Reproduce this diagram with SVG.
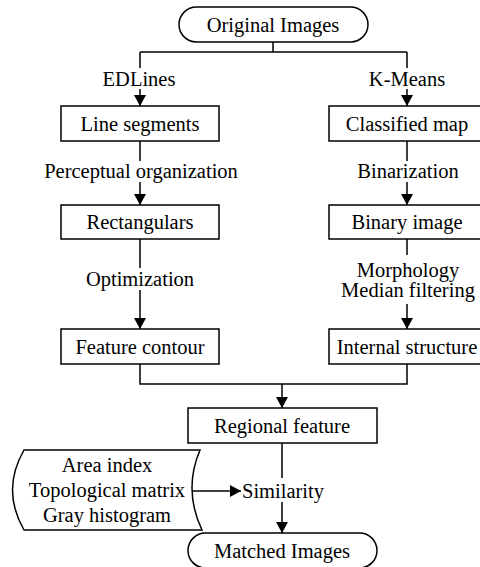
<svg xmlns="http://www.w3.org/2000/svg" width="480" height="567" viewBox="0 0 480 567">
<style>
.b{fill:#fff;stroke:#000;stroke-width:1.5}
.c{fill:none;stroke:#000;stroke-width:1.5}
.t{font-size:20.5px;fill:#000;text-anchor:middle}
</style>
<defs>
<marker id="ah" markerWidth="12" markerHeight="12" viewBox="0 0 12 12" refX="11" refY="6" orient="auto" markerUnits="userSpaceOnUse">
<path d="M0,0 L11,6 L0,12 Z" fill="#000"/>
</marker>
</defs>
<g font-family="Liberation Serif, Tinos, Times New Roman, DejaVu Serif, serif">
<g id="connectors">
<path class="c" d="M273,42 V52 M140,52 H407 M140,52 V68 M407,52 V68"/>
<path class="c" d="M140,89 V106" marker-end="url(#ah)"/>
<path class="c" d="M407,89 V106" marker-end="url(#ah)"/>
<path class="c" d="M140,141 V161"/>
<path class="c" d="M140,182 V205" marker-end="url(#ah)"/>
<path class="c" d="M407,141 V161"/>
<path class="c" d="M407,182 V205" marker-end="url(#ah)"/>
<path class="c" d="M140,239 V268"/>
<path class="c" d="M140,290 V329" marker-end="url(#ah)"/>
<path class="c" d="M407,239 V255"/>
<path class="c" d="M407,304 V329" marker-end="url(#ah)"/>
<path class="c" d="M140,364 V384 H407 V364"/>
<path class="c" d="M282,384 V408" marker-end="url(#ah)"/>
<path class="c" d="M282,443 V478"/>
<path class="c" d="M282,502 V533" marker-end="url(#ah)"/>
<path class="c" d="M192,491 H241" marker-end="url(#ah)"/>
<text class="t" x="139" y="86">EDLines</text>
<text class="t" x="407" y="86">K-Means</text>
<text class="t" x="141" y="178">Perceptual organization</text>
<text class="t" x="408" y="178">Binarization</text>
<text class="t" x="140" y="286">Optimization</text>
<text class="t" x="408" y="277">Morphology</text>
<text class="t" x="408" y="297">Median filtering</text>
<text class="t" x="283" y="498">Similarity</text>
</g>
<g id="original"><rect class="b" x="179" y="7" width="189" height="35" rx="17.5"/><text class="t" x="273" y="31.5">Original Images</text></g>
<g id="lineseg"><rect class="b" x="61" y="106" width="158" height="35"/><text class="t" x="140" y="130.5">Line segments</text></g>
<g id="classified"><rect class="b" x="329" y="106" width="158" height="35"/><text class="t" x="407" y="130.5">Classified map</text></g>
<g id="rect"><rect class="b" x="61" y="205" width="158" height="34"/><text class="t" x="140" y="229">Rectangulars</text></g>
<g id="binary"><rect class="b" x="329" y="205" width="158" height="34"/><text class="t" x="407" y="229">Binary image</text></g>
<g id="contour"><rect class="b" x="61" y="329" width="158" height="35"/><text class="t" x="140" y="353.5">Feature contour</text></g>
<g id="internal"><rect class="b" x="329" y="329" width="158" height="35"/><text class="t" x="407" y="353.5">Internal structure</text></g>
<g id="regional"><rect class="b" x="188" y="408" width="189" height="35"/><text class="t" x="282" y="432.5">Regional feature</text></g>
<g id="data"><path class="b" d="M24,450 H200 Q183,490 202,530 H24 Q1,490 24,450 Z"/><text class="t" x="107" y="472">Area index</text><text class="t" x="107" y="497">Topological matrix</text><text class="t" x="107" y="522">Gray histogram</text></g>
<g id="matched"><rect class="b" x="188" y="533" width="189" height="35" rx="17.5"/><text class="t" x="282" y="557.5">Matched Images</text></g>
</g>
</svg>
